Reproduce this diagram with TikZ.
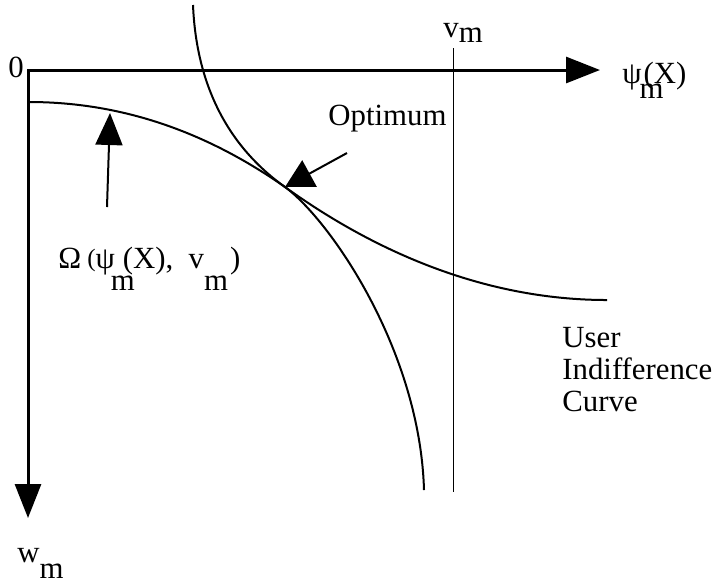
\documentclass[tikz,border=0pt]{standalone}
\usepackage{fontspec}
\setmainfont{Liberation Serif}
\usetikzlibrary{arrows.meta,positioning}
\tikzset{
  axisarr/.style={{Triangle[length=17pt,width=13pt]}-{Triangle[length=17pt,width=13pt]},
                  line width=1.5pt},
  curveline/.style={line width=1pt},
  thinline/.style={line width=0.5pt},
  pointarr/.style={-{Triangle[length=14pt,width=15pt]},line width=1pt},
  uparr/.style={-{Triangle[length=16pt,width=13.5pt]},line width=1pt},
  lbl/.style={inner sep=0pt,font=\fontsize{15.4}{16}\selectfont}
}
\newcommand{\lowm}[1]{\raisebox{-#1}{m}}
\begin{document}
\begin{tikzpicture}[x=0.5pt,y=-0.5pt]
  \useasboundingbox (0,0) rectangle (716,586);
  % axes
  \coordinate (O) at (28,70);
  \coordinate (xend) at (600,70);
  \coordinate (yend) at (28,518);
  \draw[axisarr] (yend) -- (O) -- (xend);
  % v_m budget line
  \coordinate (vtop) at (453,48);
  \coordinate (vbot) at (453,492);
  \draw[thinline] (vtop) -- (vbot);
  % production frontier and indifference curve, tangent at (opt)
  \coordinate (opt) at (285,187);
  \draw[curveline] (29,102) .. controls (140,102) and (225,145) .. (opt)
                   .. controls (330,220) and (420,350) .. (424,490);
  \draw[curveline] (193,5) .. controls (197,100) and (240,155) .. (opt)
                   .. controls (345,230) and (460,300) .. (607,300);
  % labels
  \node[lbl,anchor=base west] (zero) at (8,77) {0};
  \node[lbl,anchor=base west] (vm) at (443,37) {v\lowm{2.5pt}};
  \node[lbl,anchor=base west] (psi) at (622,83)
    {ψ\kern-1pt\rlap{\lowm{7.5pt}}\kern2pt(X)};
  \node[lbl,anchor=base west] (wm) at (17,562) {w\lowm{8pt}};
  \node[lbl,anchor=base west] (optlbl) at (328,125) {Optimum};
  \node[lbl,anchor=base west] (omega) at (58,268)
    {Ω\kern3pt\raisebox{1pt}{\fontsize{12.5}{13}\selectfont(}ψ\kern-2pt\rlap{\lowm{11pt}}\kern6pt(X), \ v\rlap{\lowm{11pt}}\kern13pt)};
  \node[lbl,anchor=north west,align=left] (user) at (562,327)
    {User\\Indifference\\Curve};
  % pointers
  \coordinate (opttail) at (347,153);
  \draw[pointarr] (opttail) -- (opt);
  \coordinate (omtail) at (107,207);
  \coordinate (omtip) at (110,113);
  \draw[uparr] (omtail) -- (omtip);
\end{tikzpicture}
\end{document}
